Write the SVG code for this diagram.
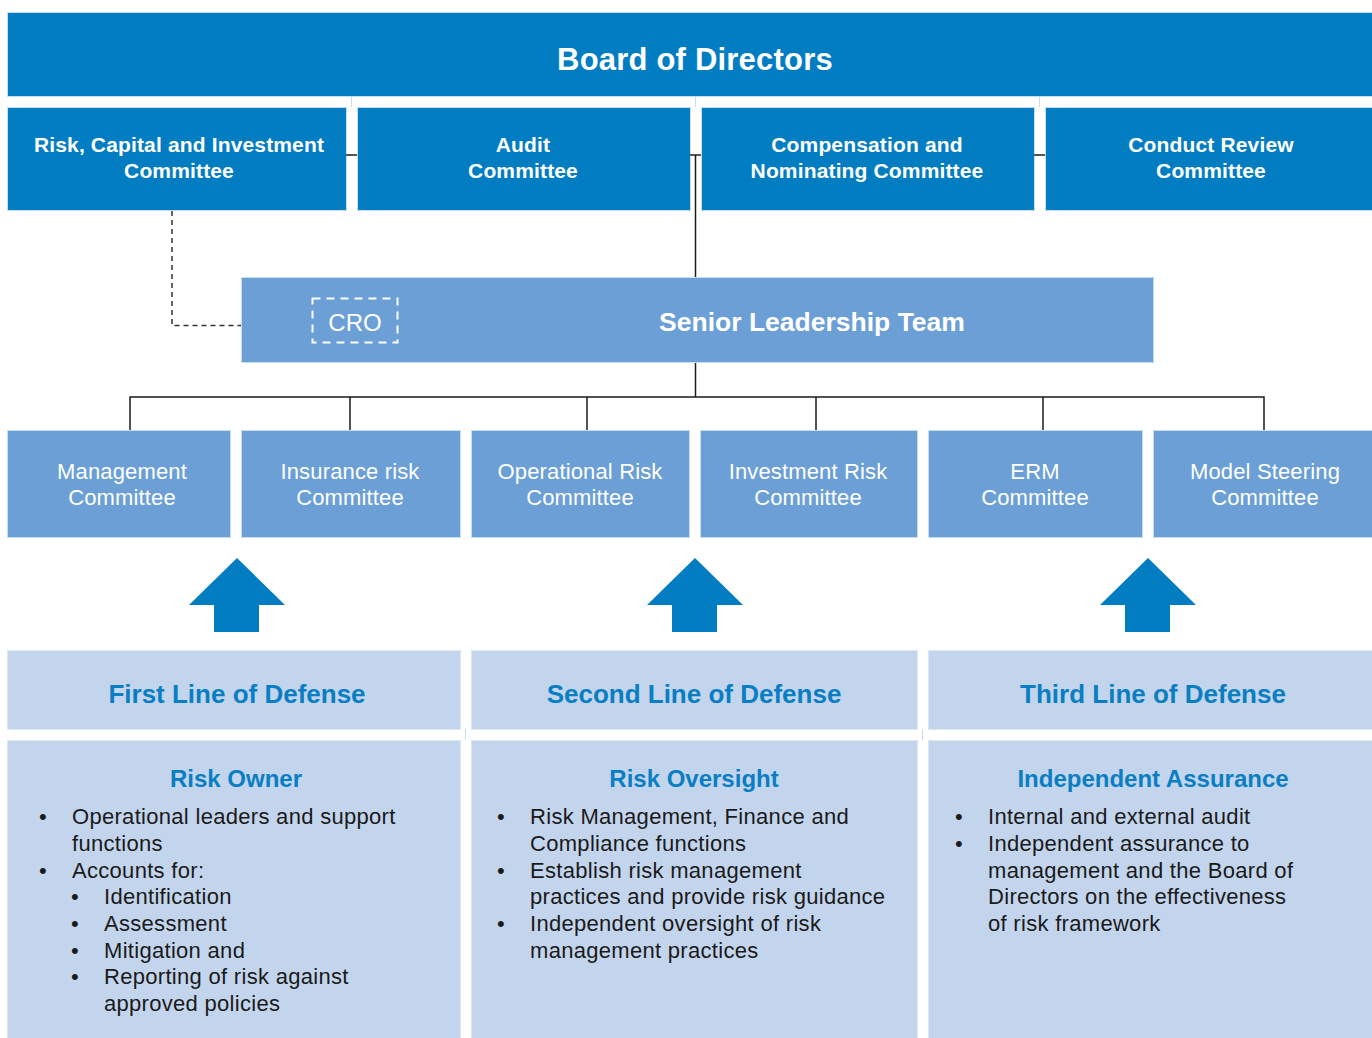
<svg xmlns="http://www.w3.org/2000/svg" width="1372" height="1038" viewBox="0 0 1372 1038">
  <style>
    .board { fill: #037dc2; stroke: #c6def1; stroke-width: 1; }
    .mid { fill: #6b9fd5; stroke: #c6def1; stroke-width: 1; }
    .pale { fill: #c3d5ed; stroke: #dde8f5; stroke-width: 1; }
    .grid { stroke: #c6def1; stroke-width: 1; fill: none; }
    .tie { stroke: #555555; stroke-width: 2; fill: none; }
    .link { stroke: #1a1a1a; stroke-width: 1.5; fill: none; }
    .dash { stroke: #333333; stroke-width: 1.5; stroke-dasharray: 5 4; fill: none; }
    .arrow { fill: #037dc2; }
    text { font-family: "Liberation Sans", Arial, sans-serif; }
    .hb { fill: #ffffff; font-weight: bold; font-size: 21px; text-anchor: middle; letter-spacing: 0.15px; }
    .hl { fill: #ffffff; font-size: 22px; text-anchor: middle; letter-spacing: 0.15px; }
    .title { fill: #0a7ec2; font-weight: bold; font-size: 26px; text-anchor: middle; }
    .sub { fill: #0a7ec2; font-weight: bold; font-size: 24px; text-anchor: middle; }
    .body { fill: #1a1a1a; font-size: 22px; letter-spacing: 0.3px; }
  </style>

  <!-- faint grid between the board and its committees -->
  <g id="grid-lines">
    <line class="grid" x1="351.5" y1="96" x2="351.5" y2="107"/>
    <line class="grid" x1="695.5" y1="96" x2="695.5" y2="107"/>
    <line class="grid" x1="1039.5" y1="96" x2="1039.5" y2="107"/>
    <line class="grid" x1="465.5" y1="729" x2="465.5" y2="740"/>
    <line class="grid" x1="922.5" y1="729" x2="922.5" y2="740"/>
  </g>

  <g id="board">
    <rect class="board" x="7.5" y="12.5" width="1366" height="84"/>
    <text x="695" y="70" fill="#ffffff" font-weight="bold" font-size="31" letter-spacing="0.2" text-anchor="middle">Board of Directors</text>
  </g>

  <g id="rcic">
    <rect class="board" x="7.5" y="107.5" width="339" height="103"/>
    <text class="hb" x="179" y="152">Risk, Capital and Investment</text>
    <text class="hb" x="179" y="178">Committee</text>
  </g>
  <g id="audit">
    <rect class="board" x="357.5" y="107.5" width="333" height="103"/>
    <text class="hb" x="523" y="152">Audit</text>
    <text class="hb" x="523" y="178">Committee</text>
  </g>
  <g id="compensation">
    <rect class="board" x="701.5" y="107.5" width="333" height="103"/>
    <text class="hb" x="867" y="152">Compensation and</text>
    <text class="hb" x="867" y="178">Nominating Committee</text>
  </g>
  <g id="conduct">
    <rect class="board" x="1045.5" y="107.5" width="328" height="103"/>
    <text class="hb" x="1211" y="152">Conduct Review</text>
    <text class="hb" x="1211" y="178">Committee</text>
  </g>

  <g id="connectors">
    <line class="tie" x1="346" y1="155" x2="357" y2="155"/>
    <line class="tie" x1="690" y1="155" x2="701" y2="155"/>
    <line class="tie" x1="1034" y1="155" x2="1045" y2="155"/>
    <line class="link" x1="695.5" y1="155" x2="695.5" y2="277"/>
    <polyline class="dash" points="172,211 172,325.5 241,325.5"/>
    <line class="link" x1="695.5" y1="362" x2="695.5" y2="397"/>
    <polyline class="link" points="130,430 130,397 1264,397 1264,430"/>
    <line class="link" x1="350" y1="397" x2="350" y2="430"/>
    <line class="link" x1="587" y1="397" x2="587" y2="430"/>
    <line class="link" x1="816" y1="397" x2="816" y2="430"/>
    <line class="link" x1="1043" y1="397" x2="1043" y2="430"/>
  </g>

  <g id="slt">
    <rect class="mid" x="241.5" y="277.5" width="912" height="85"/>
    <rect x="312.5" y="298.5" width="85" height="44" fill="none" stroke="#ffffff" stroke-width="2" stroke-dasharray="8 6"/>
    <text x="355" y="331" fill="#ffffff" font-size="24" text-anchor="middle">CRO</text>
    <text x="812" y="331" fill="#ffffff" font-weight="bold" font-size="26.5" text-anchor="middle">Senior Leadership Team</text>
  </g>

  <g id="management">
    <rect class="mid" x="7.5" y="430.5" width="223" height="107"/>
    <text class="hl" x="122" y="479">Management</text>
    <text class="hl" x="122" y="505">Committee</text>
  </g>
  <g id="insurance">
    <rect class="mid" x="241.5" y="430.5" width="219" height="107"/>
    <text class="hl" x="350" y="479">Insurance risk</text>
    <text class="hl" x="350" y="505">Committee</text>
  </g>
  <g id="operational">
    <rect class="mid" x="471.5" y="430.5" width="218" height="107"/>
    <text class="hl" x="580" y="479">Operational Risk</text>
    <text class="hl" x="580" y="505">Committee</text>
  </g>
  <g id="investment">
    <rect class="mid" x="700.5" y="430.5" width="217" height="107"/>
    <text class="hl" x="808" y="479">Investment Risk</text>
    <text class="hl" x="808" y="505">Committee</text>
  </g>
  <g id="erm">
    <rect class="mid" x="928.5" y="430.5" width="214" height="107"/>
    <text class="hl" x="1035" y="479">ERM</text>
    <text class="hl" x="1035" y="505">Committee</text>
  </g>
  <g id="model">
    <rect class="mid" x="1153.5" y="430.5" width="220" height="107"/>
    <text class="hl" x="1265" y="479">Model Steering</text>
    <text class="hl" x="1265" y="505">Committee</text>
  </g>

  <!-- upward arrows from each line of defense -->
  <g id="arrows">
    <polygon class="arrow" points="237,558 285,605 259,605 259,632 214,632 214,605 189,605"/>
    <polygon class="arrow" points="695,558 743,605 717,605 717,632 672,632 672,605 647,605"/>
    <polygon class="arrow" points="1148,558 1196,605 1170,605 1170,632 1125,632 1125,605 1100,605"/>
  </g>

  <g id="first-line">
    <rect class="pale" x="7.5" y="650.5" width="453" height="79"/>
    <text class="title" x="237" y="703">First Line of Defense</text>
    <rect class="pale" x="7.5" y="740.5" width="453" height="300"/>
    <text class="sub" x="236" y="787">Risk Owner</text>
    <g class="body">
      <text x="39" y="824">•</text><text x="72" y="824">Operational leaders and support</text>
      <text x="72" y="851">functions</text>
      <text x="39" y="877.5">•</text><text x="72" y="877.5">Accounts for:</text>
      <text x="71" y="904">•</text><text x="104" y="904">Identification</text>
      <text x="71" y="931">•</text><text x="104" y="931">Assessment</text>
      <text x="71" y="957.5">•</text><text x="104" y="957.5">Mitigation and</text>
      <text x="71" y="984">•</text><text x="104" y="984">Reporting of risk against</text>
      <text x="104" y="1011">approved policies</text>
    </g>
  </g>

  <g id="second-line">
    <rect class="pale" x="471.5" y="650.5" width="446" height="79"/>
    <text class="title" x="694" y="703">Second Line of Defense</text>
    <rect class="pale" x="471.5" y="740.5" width="446" height="300"/>
    <text class="sub" x="694" y="787">Risk Oversight</text>
    <g class="body">
      <text x="497" y="824">•</text><text x="530" y="824">Risk Management, Finance and</text>
      <text x="530" y="851">Compliance functions</text>
      <text x="497" y="877.5">•</text><text x="530" y="877.5">Establish risk management</text>
      <text x="530" y="904">practices and provide risk guidance</text>
      <text x="497" y="931">•</text><text x="530" y="931">Independent oversight of risk</text>
      <text x="530" y="957.5">management practices</text>
    </g>
  </g>

  <g id="third-line">
    <rect class="pale" x="928.5" y="650.5" width="445" height="79"/>
    <text class="title" x="1153" y="703">Third Line of Defense</text>
    <rect class="pale" x="928.5" y="740.5" width="445" height="300"/>
    <text class="sub" x="1153" y="787">Independent Assurance</text>
    <g class="body">
      <text x="955" y="824">•</text><text x="988" y="824">Internal and external audit</text>
      <text x="955" y="851">•</text><text x="988" y="851">Independent assurance to</text>
      <text x="988" y="877.5">management and the Board of</text>
      <text x="988" y="904">Directors on the effectiveness</text>
      <text x="988" y="931">of risk framework</text>
    </g>
  </g>
</svg>
